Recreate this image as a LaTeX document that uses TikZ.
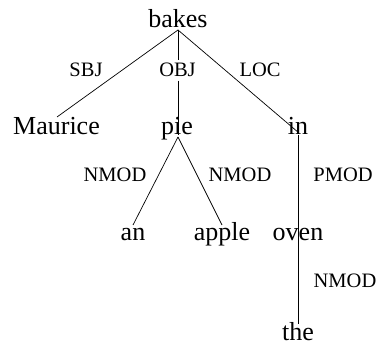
\documentclass[tikz,border=0pt]{standalone}
\usepackage{fontspec}
\setmainfont{Liberation Serif}
\tikzset{
  word/.style={anchor=base, inner sep=0pt, font=\fontsize{26}{30}\selectfont},
  rel/.style={anchor=base, font=\fontsize{20.5}{24}\selectfont},
  edge/.style={draw=black, line width=0.7pt}
}
\begin{document}
\begin{tikzpicture}[x=1pt,y=1pt]
\useasboundingbox (0,0) rectangle (377,347);
% words
\node[word] (bakes) at (178,319) {bakes};
\node[word] (maurice) at (56.5,212) {Maurice};
\node[word] (pie) at (177,212) {pie};
\node[word] (in) at (298,212) {in};
\node[word] (an) at (133,106) {an};
\node[word] (apple) at (222,106) {apple};
\node[word] (oven) at (298,106) {oven};
\node[word] (the) at (298,6) {the};
% relation labels
\node[rel] (sbj) at (86,270) {SBJ};
\node[rel] (obj) at (177.5,270) {OBJ};
\node[rel] (loc) at (260,270) {LOC};
\node[rel] (nmodA) at (115,165) {NMOD};
\node[rel] (nmodB) at (240,165) {NMOD};
\node[rel] (pmod) at (343,165) {PMOD};
\node[rel] (nmodC) at (345,59) {NMOD};
% edges
\draw[edge] ([yshift=-2pt]bakes.base) -- ([xshift=0.5pt,yshift=18pt]maurice.base);
\draw[edge] ([yshift=-2pt]bakes.base) -- (obj.north -| bakes.base);
\draw[edge] (obj.south -| bakes.base) -- ([xshift=1pt]pie.base);
\draw[edge] ([yshift=-2pt]bakes.base) -- ([xshift=1pt,yshift=2pt]in.base);
\draw[edge] ([xshift=1pt,yshift=-2pt]pie.base) -- ([yshift=16pt]an.base);
\draw[edge] ([xshift=1pt,yshift=-2pt]pie.base) -- ([yshift=16pt]apple.base);
\draw[edge] ([xshift=0.5pt]in.base) -- ([xshift=0.5pt,yshift=-4pt]oven.base);
\draw[edge] ([xshift=0.5pt,yshift=-4pt]oven.base) -- ([xshift=0.5pt,yshift=17pt]the.base);
\end{tikzpicture}
\end{document}
